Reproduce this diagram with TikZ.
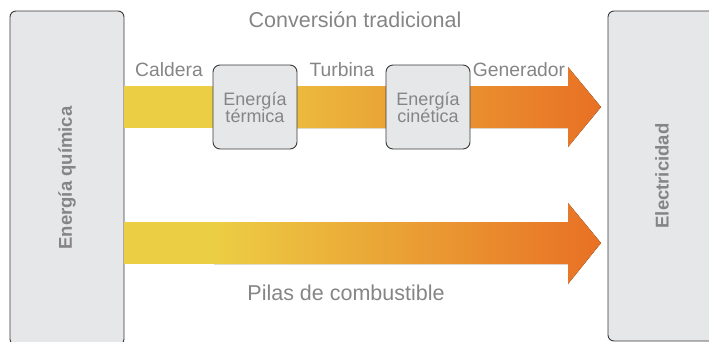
\documentclass[tikz,border=0pt]{standalone}
\usepackage{fontspec}
\setmainfont{Liberation Sans}
\usepackage{xcolor}
\usepackage{tikz}
\usetikzlibrary{positioning}
\definecolor{boxgray}{HTML}{E6E7E8}
\definecolor{edgegray}{HTML}{3A3A3A}
\definecolor{txtgray}{HTML}{858585}
\definecolor{amarillo}{HTML}{ECCE44}
\definecolor{naranja}{HTML}{E87024}
\tikzset{
  bigbox/.style={draw=edgegray,line width=0.9pt,fill=boxgray,rounded corners=6pt,inner sep=0pt},
  smallbox/.style={draw=edgegray,line width=0.9pt,fill=boxgray,rounded corners=7pt,inner sep=0pt,
                   minimum width=84pt,minimum height=84pt,align=center,text=txtgray,
                   font=\fontsize{18}{18}\selectfont},
  vlabel/.style={rotate=90,text=txtgray,font=\fontsize{18.5}{20}\selectfont\bfseries},
  etiq/.style={text=txtgray,font=\fontsize{19.3}{20}\selectfont,inner sep=1pt},
  titulo/.style={etiq,font=\fontsize{21.5}{22}\selectfont},
}

\begin{document}
\begin{tikzpicture}[x=1pt,y=-1pt]
        \clip (0,0) rectangle (709,341);
        \useasboundingbox (0,0) rectangle (709,341);
        % cajas laterales
        \node[bigbox,minimum width=114pt,minimum height=334pt] (quim) at (67,178) {};
        \node[bigbox,minimum width=114pt,minimum height=330pt] (elec) at (665,176) {};
        \node[vlabel] (quimtxt) at (quim) {Energía química};
        \node[vlabel] (electxt) at ([xshift=-3pt]elec.center) {Electricidad};
        % flechas
        \fill[left color=amarillo,right color=naranja]
          (213,86) -- (568,86) -- (568,67) -- (601,107) -- (568,147) -- (568,128) -- (213,128) -- cycle;
        \fill[amarillo] (quim.east |- 0,86) rectangle (214,128);
        \fill[left color=amarillo,right color=naranja]
          (214,222) -- (568,222) -- (568,203) -- (601,243) -- (568,284) -- (568,264) -- (214,264) -- cycle;
        \fill[amarillo] (quim.east |- 0,222) rectangle (215,264);
        % cajas intermedias
        \node[smallbox] (term) at (255,107) {Energía\\[-1pt]térmica};
        \node[smallbox] (cin)  at (428,107) {Energía\\[-1pt]cinética};
        % etiquetas
        \node[titulo] (conv)  at (355,20)  {Conversión tradicional};
        \node[etiq] (caldera) at (169,70)  {Caldera};
        \node[etiq] (turbina) at (342,70)  {Turbina};
        \node[etiq] (gen)     at (519,70)  {Generador};
        \node[titulo] (pilas) at (346,293) {Pilas de combustible};
      \end{tikzpicture}
\end{document}
